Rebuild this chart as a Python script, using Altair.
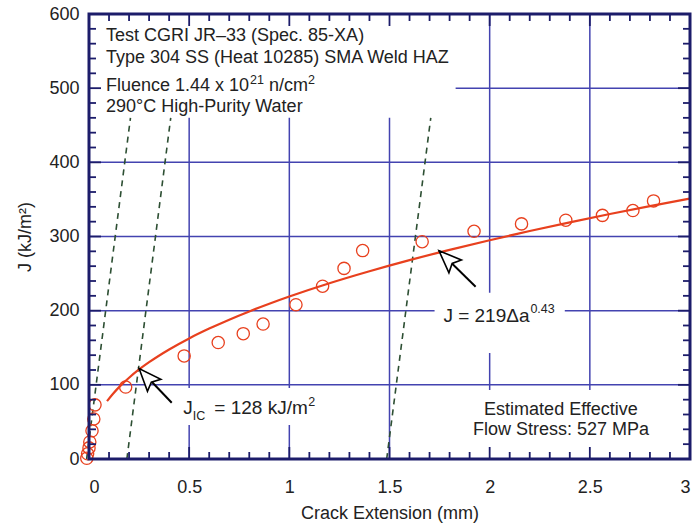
import altair as alt
import pandas as pd

# ---------------- data ----------------
crack_ext = [-0.011, -0.007, 0.0, 0.004, 0.015, 0.024, 0.03, 0.183, 0.475, 0.645,
             0.77, 0.869, 1.033, 1.166, 1.273, 1.366, 1.663, 1.922, 2.159, 2.38,
             2.563, 2.715, 2.818]
j_values = [1, 7, 15, 23, 38, 54, 73, 97, 139, 157,
            169, 182, 208, 233, 257, 281, 293, 307, 317, 322,
            328.5, 335, 348]

# power-law fit curve J = 219 da^0.43
fit_x = [0.09, 0.12, 0.16, 0.2, 0.25, 0.3, 0.4, 0.5, 0.6, 0.7, 0.8, 0.9, 1.0,
         1.2, 1.4, 1.6, 1.8, 2.0, 2.2, 2.4, 2.6, 2.8, 3.0]
fit_j = [78, 88, 99.6, 109.6, 120.7, 130.5, 147.7, 162.6, 175.8, 187.9, 199, 209.3, 219,
         236.9, 253.1, 268.1, 282, 295, 307.4, 319.1, 330.3, 341, 351.2]

# dashed construction lines (blunting / exclusion lines)
dash_x_start = [-0.012, 0.189, 1.486]
dash_j_start = [0, 0, 0]
dash_x_end = [0.207, 0.408, 1.706]
dash_j_end = [460, 460, 460]

# arrows: tip (on the curve) and tail
arrow_tip_x = [0.25, 1.747]
arrow_tip_j = [122, 280.8]
arrow_tail_x = [0.413, 1.93]
arrow_tail_j = [75.9, 232.3]
arrow_angle = [318, 314]

x_major = [0, 0.5, 1, 1.5, 2, 2.5, 3]
x_minor = [round(i * 0.1, 1) for i in range(31) if i % 5 != 0]
y_major = [0, 100, 200, 300, 400, 500, 600]
y_minor = [i * 20 for i in range(31) if i % 5 != 0]
x_grid = [0.5, 1, 1.5, 2, 2.5]
y_grid = [100, 200, 300, 400, 500]

# label background boxes (cover the grid)
box_x1 = [-0.01, 1.725, 0.43, 1.9]
box_x2 = [1.83, 2.375, 1.2, 2.83]
box_j1 = [460, 143, 45.8, 0]
box_j2 = [600, 224, 95.7, 93]

info_plain = ["Test CGRI JR–33 (Spec. 85-XA)",
              "Type 304 SS (Heat 10285) SMA Weld HAZ",
              "Fluence 1.44 x 10",
              "290°C High-Purity Water"]
info_x = [0.085, 0.085, 0.085, 0.085]
info_j = [564, 534.3, 496.6, 468.3]

flow_lines = ["Estimated Effective", "Flow Stress: 527 MPa"]
flow_x = [2.356, 2.356]
flow_j = [59.3, 32.4]

# ---------------- styling ----------------
W, H = 601, 445
NAVY = "#1c1c6a"
GRID = "#4343b0"
RED = "#e8401e"
GREEN = "#2d4f33"
TXT = "#222222"
FONT = "Liberation Sans"

xs = alt.Scale(domain=[0, 3], nice=False, zero=False)
ys = alt.Scale(domain=[0, 600], nice=False, zero=False)

def df(**cols):
    return pd.DataFrame(cols)

x_axis = alt.Axis(values=x_major, format="~g", ticks=False, domain=False, grid=False,
                  labelFontSize=18, labelPadding=19, labelColor=TXT, labelFont=FONT,
                  title="Crack Extension (mm)", titleFontSize=18, titleFont=FONT,
                  titleFontWeight="normal", titleColor=TXT, titlePadding=8)
y_axis = alt.Axis(values=y_major, ticks=False, domain=False, grid=False,
                  labelFontSize=18, labelPadding=10, labelColor=TXT, labelFont=FONT,
                  title="J (kJ/m²)", titleFontSize=18, titleFont=FONT,
                  titleFontWeight="normal", titleColor=TXT, titlePadding=14)

def X(field):
    return alt.X(field, type="quantitative", scale=xs, axis=x_axis)

def Y(field):
    return alt.Y(field, type="quantitative", scale=ys, axis=y_axis)

grid_v = alt.Chart(df(g=x_grid)).mark_rule(color=GRID, strokeWidth=1.5).encode(x=X("g"))
grid_h = alt.Chart(df(g=y_grid)).mark_rule(color=GRID, strokeWidth=1.5).encode(y=Y("g"))

boxes = alt.Chart(df(x1=box_x1, x2=box_x2, j1=box_j1, j2=box_j2)).mark_rect(
    fill="white", strokeWidth=0).encode(
    x=X("x1"), x2="x2:Q", y=Y("j1"), y2="j2:Q")

dashes = alt.Chart(df(x1=dash_x_start, j1=dash_j_start, x2=dash_x_end, j2=dash_j_end)).mark_rule(
    color=GREEN, strokeWidth=1.6, strokeDash=[6, 5]).encode(
    x=X("x1"), x2="x2:Q", y=Y("j1"), y2="j2:Q")

fit = alt.Chart(df(x=fit_x, j=fit_j)).mark_line(
    color=RED, strokeWidth=2.2, interpolate="monotone").encode(x=X("x"), y=Y("j"))

points = alt.Chart(df(x=crack_ext, j=j_values)).mark_point(
    shape="circle", filled=False, color=RED, size=150, strokeWidth=1.3, opacity=1).encode(
    x=X("x"), y=Y("j"))

shafts = alt.Chart(df(x1=arrow_tip_x, j1=arrow_tip_j, x2=arrow_tail_x, j2=arrow_tail_j)).mark_rule(
    color="black", strokeWidth=2).encode(
    x=X("x1"), x2="x2:Q", y=Y("j1"), y2="j2:Q")

heads = alt.Chart(df(x=arrow_tip_x, j=arrow_tip_j, a=arrow_angle)).mark_point(
    shape="M0,0 L-0.6,1.5 L0,1.22 L0.6,1.5 Z", filled=True, fill="white",
    stroke="black", strokeWidth=1.6, size=900, opacity=1, fillOpacity=1).encode(
    x=X("x"), y=Y("j"), angle=alt.Angle("a:Q", scale=None))

def label(x, j, text, size, dx=0, dy=0, align="left"):
    return alt.Chart(df(x=x, j=j, t=text)).mark_text(
        align=align, baseline="alphabetic", fontSize=size, font=FONT, color=TXT,
        dx=dx, dy=dy).encode(x=X("x"), y=Y("j"), text="t:N")

texts = [
    label(info_x, info_j, info_plain, 18),
    label([info_x[2]], [info_j[2]], ["21"], 12.5, dx=144, dy=-7),
    label([info_x[2]], [info_j[2]], ["n/cm"], 18, dx=163),
    label([info_x[2]], [info_j[2]], ["2"], 12.5, dx=202, dy=-7),
    label(flow_x, flow_j, flow_lines, 18, align="center"),
    label([0.471], [60.7], ["J"], 19),
    label([0.471], [60.7], ["IC"], 12.5, dx=9.5, dy=6),
    label([0.471], [60.7], ["= 128 kJ/m"], 19, dx=31),
    label([0.471], [60.7], ["2"], 12.5, dx=125, dy=-8),
    label([1.769], [185.1], ["J = 219Δa"], 19),
    label([1.769], [185.1], ["0.43"], 12.5, dx=87, dy=-9),
]

def xticks(vals, y0, y1):
    return alt.Chart(df(t=vals)).mark_rule(color=NAVY, strokeWidth=1.8).encode(
        x=X("t"), y=alt.value(y0), y2=alt.value(y1))

def yticks(vals, x0, x1):
    return alt.Chart(df(t=vals)).mark_rule(color=NAVY, strokeWidth=1.8).encode(
        y=Y("t"), x=alt.value(x0), x2=alt.value(x1))

ticks = [xticks(x_major, H, H - 12), xticks(x_minor, H, H - 7),
         xticks(x_major, 0, 12), xticks(x_minor, 0, 7),
         yticks(y_major, 0, 12), yticks(y_minor, 0, 7),
         yticks(y_major, W, W - 12), yticks(y_minor, W, W - 7)]

frame = alt.Chart(df(k=[1])).mark_rect(filled=False, stroke=NAVY, strokeWidth=3).encode(
    x=alt.value(0), x2=alt.value(W), y=alt.value(0), y2=alt.value(H))

chart = alt.layer(
    grid_v, grid_h, boxes, dashes, fit, points, shafts, heads, *texts, *ticks, frame
).properties(
    width=W, height=H,
    autosize=alt.AutoSizeParams(type="none"),
    padding={"left": 89, "top": 14, "right": 8, "bottom": 68},
    background="white"
).configure_view(stroke=None)

chart.save("out.html", embed_options={"renderer": "svg", "actions": False})
